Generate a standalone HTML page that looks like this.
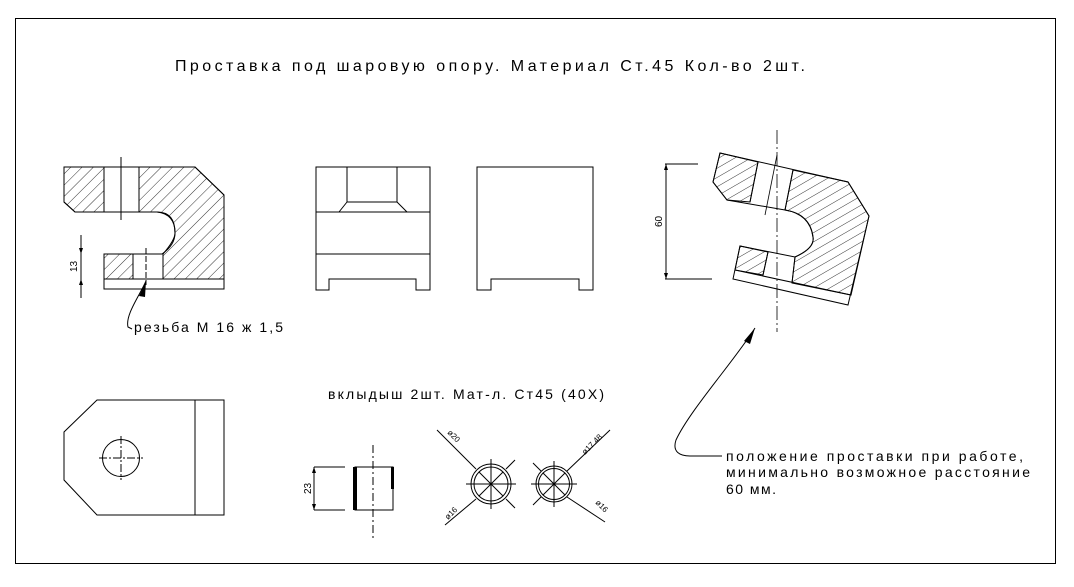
<!DOCTYPE html>
<html><head><meta charset="utf-8"><style>
html,body{margin:0;padding:0;background:#fff;width:1074px;height:587px;overflow:hidden}
svg{display:block}
text{font-family:"Liberation Sans",sans-serif;fill:#000}
</style></head><body>
<svg width="1074" height="587" viewBox="0 0 1074 587" xmlns="http://www.w3.org/2000/svg">
<defs>
<pattern id="h1" patternUnits="userSpaceOnUse" width="8" height="8" patternTransform="rotate(45)">
<line x1="0" y1="0" x2="0" y2="8" stroke="#000" stroke-width="0.8"/></pattern>
<pattern id="h2" patternUnits="userSpaceOnUse" width="8" height="8" patternTransform="rotate(60)">
<line x1="0" y1="0" x2="0" y2="8" stroke="#000" stroke-width="0.8"/></pattern>
</defs>
<rect x="15.5" y="18.5" width="1040" height="545" fill="none" stroke="#000" stroke-width="1"/>
<text x="175" y="71" font-size="16" textLength="630" lengthAdjust="spacing">Проставка под шаровую опору. Материал Ст.45  Кол-во 2шт.</text>

<g stroke="#000" stroke-width="1" fill="none">
<path d="M64,167 H104 V212 H75 L64,202 Z" fill="url(#h1)"/>
<path d="M139,167 H195 L224,195 V279 H163 V254 Q175,240 175,233 Q175,212 157,212 H139 Z" fill="url(#h1)"/>
<path d="M104,254 H133 V279 H104 Z" fill="url(#h1)"/>
<path d="M64,167 H195 L224,195 V289 H104 V254 H162 Q175,245 175,233 Q175,214 157,212 H75 L64,202 Z"/>
<line x1="104" y1="279" x2="224" y2="279"/>
<line x1="104" y1="167" x2="104" y2="212"/>
<line x1="139" y1="167" x2="139" y2="212"/>
<line x1="133" y1="254" x2="133" y2="279" stroke-dasharray="4,2"/>
<line x1="163" y1="254" x2="163" y2="279"/>
<line x1="121" y1="157" x2="121" y2="220"/>
<line x1="146" y1="248" x2="146" y2="285" stroke-dasharray="6,2"/>
<line x1="81" y1="235" x2="81" y2="298"/>
<path d="M146,281 C140,295 125,315 128,327 L132,329"/>
<path d="M316,167 H430 V290 H416 V279 H329 V290 H316 Z"/>
<line x1="316" y1="212" x2="430" y2="212"/>
<line x1="316" y1="254" x2="430" y2="254"/>
<path d="M347,167 V202 H397 V167 M347,202 L339,212 M397,202 L407,212"/>
<path d="M477,167 H593 V290 H579 V279 H491 V290 H477 Z"/>
<path d="M720,153 L758,162 L750,202 L727,200 L713,182 Z" fill="url(#h2)"/>
<path d="M793,170 L848,182 L869,216 L851,295 L792,283 L795,257 Q815,248 813,237 Q810,214 785,210 Z" fill="url(#h2)"/>
<path d="M740,246 L768,252 L763,275 L735,270 Z" fill="url(#h2)"/>
<path d="M720,153 L848,182 L869,216 L848,305 L733,279 L740,246 L795,257 Q815,248 813,237 Q810,214 785,210 L727,200 L713,182 Z"/>
<line x1="735" y1="270" x2="851" y2="295"/>
<line x1="758" y1="162" x2="750" y2="202"/>
<line x1="793" y1="170" x2="785" y2="210"/>
<line x1="768" y1="252" x2="763" y2="275"/>
<line x1="795" y1="257" x2="792" y2="283"/>
<line x1="777" y1="130" x2="777" y2="332" stroke-dasharray="14,3,2,3" stroke-width="0.8"/>
<line x1="777" y1="155" x2="765" y2="215" stroke-width="0.8"/>
<line x1="665" y1="164" x2="698" y2="164"/>
<line x1="665" y1="279" x2="712" y2="279"/>
<line x1="666" y1="164" x2="666" y2="279"/>
<path d="M755,328 C735,360 690,410 676,440 C672,452 680,456 690,456 H722"/>
<path d="M97,400 H224 V515 H97 L64,480 V432 Z"/>
<line x1="195" y1="400" x2="195" y2="515"/>
<circle cx="121" cy="458" r="18.5"/>
<line x1="99" y1="458" x2="143" y2="458" stroke-dasharray="8,2,2,2"/>
<line x1="121" y1="436" x2="121" y2="480" stroke-dasharray="8,2,2,2"/>
<line x1="314" y1="467" x2="314" y2="510"/>
<line x1="314" y1="467" x2="345" y2="467"/>
<line x1="314" y1="510" x2="345" y2="510"/>
<path d="M355,467 H393 V510 H355 Z"/>
<line x1="373" y1="445" x2="373" y2="540" stroke-dasharray="8,3,2,3"/>
<circle cx="491" cy="484" r="20"/>
<circle cx="491" cy="484" r="17"/>
<line x1="466" y1="484" x2="516" y2="484"/>
<line x1="491" y1="459" x2="491" y2="509"/>
<line x1="479" y1="472" x2="503" y2="496"/>
<line x1="503" y1="472" x2="479" y2="496"/>
<line x1="437" y1="430" x2="476" y2="469"/>
<line x1="506" y1="469" x2="515" y2="460"/>
<line x1="476" y1="499" x2="445" y2="525"/>
<line x1="506" y1="499" x2="515" y2="508"/>
<circle cx="554" cy="484" r="18"/>
<circle cx="554" cy="484" r="15.5"/>
<line x1="531" y1="484" x2="577" y2="484"/>
<line x1="554" y1="461" x2="554" y2="507"/>
<line x1="543" y1="473" x2="565" y2="495"/>
<line x1="565" y1="473" x2="543" y2="495"/>
<line x1="610" y1="430" x2="567" y2="471"/>
<line x1="533" y1="463" x2="541" y2="471"/>
<line x1="533" y1="505" x2="541" y2="497"/>
<line x1="567" y1="497" x2="605" y2="522"/>
</g>
<g fill="#000">
<rect x="353" y="467" width="4" height="43"/><rect x="391" y="467" width="3" height="22"/>
<path d="M146,281 L139,296 L145,297 Z"/>
<path d="M755,328 L744,341 L750,344 Z"/>
<path d="M81,254 l-2,-6 h4 Z M81,279 l-2,6 h4 Z"/>
<path d="M666,164 l-2,6 h4 Z M666,279 l-2,-6 h4 Z"/>
<path d="M314,467 l-2,6 h4 Z M314,510 l-2,-6 h4 Z"/>
</g>
<text x="134" y="332" font-size="14" textLength="149" lengthAdjust="spacing">резьба М 16 ж 1,5</text>
<text font-size="10" transform="translate(77,272) rotate(-90)">13</text>
<text font-size="10" transform="translate(662,227) rotate(-90)">60</text>
<text font-size="10" transform="translate(311,494) rotate(-90)">23</text>
<text x="328" y="399" font-size="14" textLength="276" lengthAdjust="spacing">вклыдыш 2шт.  Мат-л. Ст45 (40Х)</text>
<text x="726" y="461" font-size="14" textLength="297" lengthAdjust="spacing">положение проставки при работе,</text>
<text x="726" y="477" font-size="14" textLength="304" lengthAdjust="spacing">минимально возможное расстояние</text>
<text x="726" y="494" font-size="14" textLength="50" lengthAdjust="spacing">60 мм.</text>
<text font-size="8" transform="translate(447,433) rotate(45)">ø20</text>
<text font-size="8" transform="translate(448,520) rotate(-45)">ø16</text>
<text font-size="8" transform="translate(585,455) rotate(-45)">ø17.48</text>
<text font-size="8" transform="translate(595,503) rotate(45)">ø16</text>
</svg>
</body></html>
